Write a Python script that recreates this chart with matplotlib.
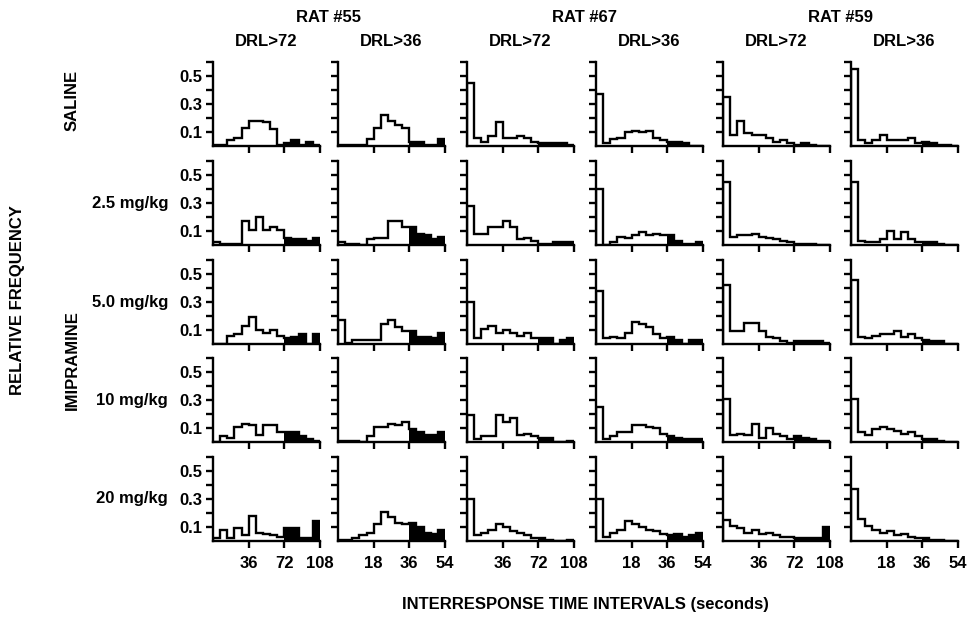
import numpy as np
import matplotlib
matplotlib.use("Agg")
import matplotlib.pyplot as plt

plt.rcParams['font.family'] = ['Liberation Sans', 'DejaVu Sans']

rats = ["RAT #55", "RAT #67", "RAT #59"]
schedules = ["DRL>72", "DRL>36", "DRL>72", "DRL>36", "DRL>72", "DRL>36"]
criteria = [72, 36, 72, 36, 72, 36]
conditions = ["SALINE", "2.5 mg/kg", "5.0 mg/kg", "10 mg/kg", "20 mg/kg"]
xtick_labels = {72: ["36", "72", "108"], 36: ["18", "36", "54"]}
ytick_values = [0.1, 0.2, 0.3, 0.4, 0.5, 0.6]
ytick_labels = ["0.1", "", "0.3", "", "0.5", ""]

# relative frequencies, 15 bins per panel (bin width = criterion / 10)
saline = [
    [0.01, 0.01, 0.04, 0.06, 0.13, 0.18, 0.18, 0.17, 0.12, 0.01, 0.02, 0.04, 0.01, 0.03, 0.01],
    [0.01, 0.01, 0.01, 0.01, 0.05, 0.13, 0.22, 0.18, 0.15, 0.13, 0.03, 0.03, 0.01, 0.01, 0.05],
    [0.45, 0.06, 0.03, 0.07, 0.17, 0.06, 0.06, 0.07, 0.06, 0.03, 0.02, 0.02, 0.02, 0.02, 0.01],
    [0.37, 0.02, 0.05, 0.06, 0.10, 0.11, 0.10, 0.11, 0.06, 0.04, 0.03, 0.03, 0.02, 0.00, 0.00],
    [0.35, 0.08, 0.18, 0.09, 0.08, 0.08, 0.06, 0.03, 0.04, 0.02, 0.01, 0.02, 0.01, 0.00, 0.00],
    [0.55, 0.04, 0.02, 0.04, 0.08, 0.04, 0.04, 0.04, 0.06, 0.02, 0.03, 0.02, 0.01, 0.01, 0.00],
]
dose_2_5 = [
    [0.02, 0.01, 0.01, 0.01, 0.17, 0.11, 0.20, 0.11, 0.13, 0.11, 0.05, 0.04, 0.04, 0.03, 0.05],
    [0.02, 0.01, 0.01, 0.00, 0.04, 0.05, 0.05, 0.17, 0.17, 0.13, 0.13, 0.08, 0.07, 0.04, 0.06],
    [0.28, 0.08, 0.08, 0.13, 0.13, 0.17, 0.13, 0.04, 0.05, 0.03, 0.01, 0.01, 0.02, 0.02, 0.02],
    [0.40, 0.00, 0.02, 0.06, 0.05, 0.07, 0.09, 0.07, 0.08, 0.07, 0.07, 0.03, 0.01, 0.01, 0.02],
    [0.45, 0.06, 0.07, 0.07, 0.08, 0.06, 0.05, 0.04, 0.03, 0.02, 0.01, 0.01, 0.01, 0.00, 0.00],
    [0.45, 0.03, 0.02, 0.02, 0.04, 0.10, 0.04, 0.09, 0.04, 0.02, 0.02, 0.02, 0.01, 0.00, 0.00],
]
dose_5_0 = [
    [0.00, 0.00, 0.06, 0.07, 0.13, 0.19, 0.10, 0.08, 0.10, 0.06, 0.04, 0.05, 0.07, 0.00, 0.07],
    [0.17, 0.01, 0.03, 0.03, 0.03, 0.03, 0.14, 0.17, 0.12, 0.09, 0.09, 0.05, 0.05, 0.04, 0.08],
    [0.30, 0.04, 0.11, 0.13, 0.08, 0.10, 0.08, 0.06, 0.08, 0.04, 0.04, 0.04, 0.00, 0.03, 0.04],
    [0.38, 0.04, 0.05, 0.04, 0.08, 0.16, 0.14, 0.12, 0.07, 0.04, 0.05, 0.03, 0.00, 0.03, 0.03],
    [0.42, 0.09, 0.09, 0.15, 0.15, 0.09, 0.05, 0.04, 0.02, 0.01, 0.02, 0.02, 0.02, 0.02, 0.01],
    [0.46, 0.05, 0.04, 0.06, 0.07, 0.07, 0.09, 0.05, 0.07, 0.04, 0.03, 0.02, 0.02, 0.00, 0.00],
]
dose_10 = [
    [0.00, 0.04, 0.03, 0.11, 0.13, 0.12, 0.05, 0.12, 0.12, 0.07, 0.07, 0.07, 0.04, 0.02, 0.01],
    [0.01, 0.01, 0.01, 0.00, 0.04, 0.11, 0.11, 0.13, 0.12, 0.14, 0.09, 0.07, 0.05, 0.05, 0.07],
    [0.19, 0.02, 0.04, 0.04, 0.19, 0.14, 0.17, 0.05, 0.06, 0.04, 0.03, 0.03, 0.00, 0.00, 0.01],
    [0.25, 0.02, 0.04, 0.07, 0.07, 0.12, 0.12, 0.11, 0.10, 0.06, 0.04, 0.03, 0.02, 0.02, 0.02],
    [0.31, 0.05, 0.06, 0.05, 0.13, 0.03, 0.10, 0.06, 0.04, 0.02, 0.04, 0.03, 0.02, 0.01, 0.01],
    [0.31, 0.07, 0.05, 0.09, 0.11, 0.09, 0.08, 0.06, 0.07, 0.04, 0.02, 0.02, 0.01, 0.00, 0.00],
]
dose_20 = [
    [0.02, 0.08, 0.02, 0.09, 0.04, 0.18, 0.06, 0.05, 0.04, 0.03, 0.09, 0.09, 0.02, 0.02, 0.14],
    [0.01, 0.01, 0.02, 0.04, 0.06, 0.12, 0.21, 0.17, 0.13, 0.12, 0.13, 0.10, 0.06, 0.05, 0.08],
    [0.30, 0.04, 0.06, 0.08, 0.12, 0.10, 0.07, 0.06, 0.04, 0.02, 0.02, 0.01, 0.00, 0.00, 0.01],
    [0.30, 0.03, 0.06, 0.08, 0.14, 0.12, 0.10, 0.08, 0.07, 0.05, 0.04, 0.05, 0.03, 0.04, 0.06],
    [0.15, 0.11, 0.09, 0.06, 0.08, 0.05, 0.06, 0.04, 0.03, 0.03, 0.02, 0.02, 0.02, 0.02, 0.10],
    [0.37, 0.16, 0.11, 0.08, 0.06, 0.07, 0.04, 0.05, 0.03, 0.02, 0.02, 0.01, 0.01, 0.00, 0.00],
]
data = [saline, dose_2_5, dose_5_0, dose_10, dose_20]

W, H = 976, 619
fig = plt.figure(figsize=(W / 100, H / 100), dpi=100)

col_x = [213, 338, 467, 596, 723, 851]
row_base = [146, 245, 344, 442, 541]
pw, ph = 107, 84
FS = 12
LW = 1.7

for r in range(5):
    for c in range(6):
        crit = criteria[c]
        ax = fig.add_axes([col_x[c] / W, 1 - row_base[r] / H, pw / W, ph / H])
        vals = np.array(data[r][c])
        edges = np.linspace(0, 1.5 * crit, 16)
        ax.stairs(vals, edges, color="black", lw=LW, baseline=0)
        ax.stairs(vals[10:], edges[10:], fill=True, color="black", baseline=0)
        ax.set_xlim(0, 1.5 * crit)
        ax.set_ylim(0, 0.6)
        for s in ["top", "right"]:
            ax.spines[s].set_visible(False)
        for s in ["left", "bottom"]:
            ax.spines[s].set_linewidth(LW)
        ax.set_yticks(ytick_values)
        ax.set_xticks([crit / 2, crit, 1.5 * crit])
        ax.tick_params(axis="y", direction="out", length=5, width=LW, pad=3)
        ax.tick_params(axis="x", direction="out", length=5, width=LW, pad=6)
        if c == 0:
            ax.set_yticklabels(ytick_labels, fontsize=FS, fontweight="bold")
        else:
            ax.set_yticklabels([])
        if r == 4:
            ax.set_xticklabels(xtick_labels[crit], fontsize=FS, fontweight="bold")
        else:
            ax.set_xticklabels([])
        ax.patch.set_alpha(0)

# column headers
for i, rat in enumerate(rats):
    cx = (col_x[2 * i] + col_x[2 * i + 1] + pw) / 2
    fig.text(cx / W, 1 - 18 / H, rat, ha="center", va="center", fontsize=FS, fontweight="bold")
for c in range(6):
    fig.text((col_x[c] + pw / 2) / W, 1 - 42 / H, schedules[c], ha="center", va="center",
             fontsize=FS, fontweight="bold")

# row labels
fig.text(72 / W, 1 - 100 / H, conditions[0], rotation=90, ha="center", va="center",
         fontsize=FS, fontweight="bold")
for r in range(1, 5):
    y = row_base[r] - 0.3 / 0.6 * ph
    fig.text(168 / W, 1 - y / H, conditions[r], ha="right", va="center",
             fontsize=FS, fontweight="bold")
fig.text(72 / W, 1 - 360 / H, "IMIPRAMINE", rotation=90, ha="center", va="center",
         fontsize=FS, fontweight="bold")
fig.text(18 / W, 1 - 300 / H, "RELATIVE FREQUENCY", rotation=90, ha="center", va="center",
         fontsize=FS, fontweight="bold")
fig.text(585 / W, 1 - 604 / H, "INTERRESPONSE TIME INTERVALS (seconds)", ha="center", va="center",
         fontsize=FS, fontweight="bold")

fig.savefig("out.png", dpi=100)
